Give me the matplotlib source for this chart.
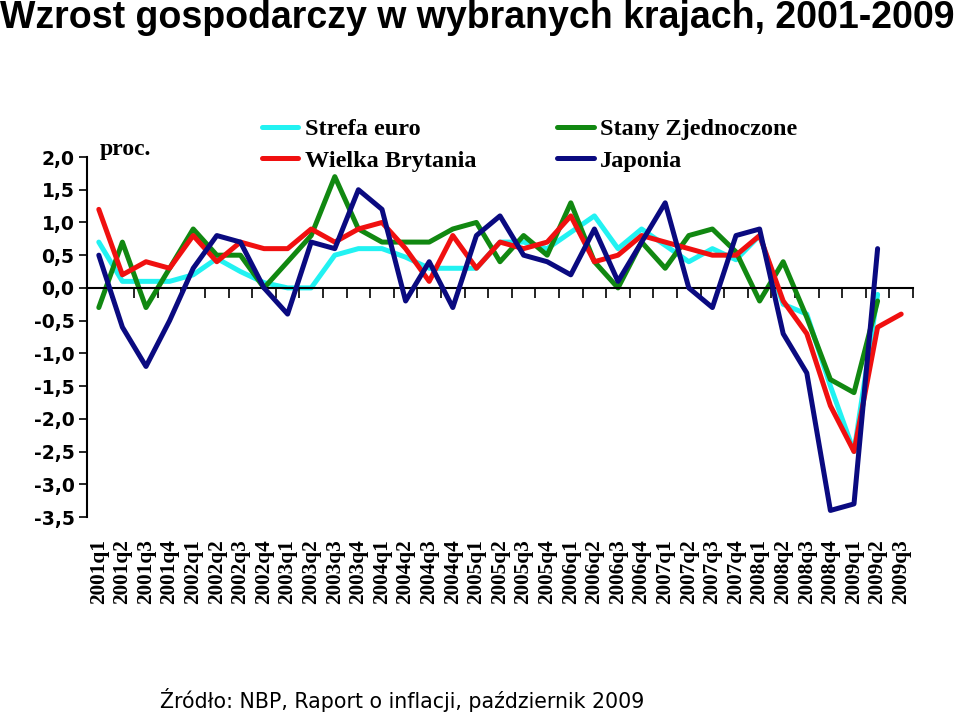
import numpy as np
import matplotlib
matplotlib.use("Agg")
import matplotlib.pyplot as plt

# quarters 2001q1 .. 2009q3
quarters = [f"{y}q{q}" for y in range(2001, 2010) for q in range(1, 5)][:35]

# GDP growth q/q, per cent
euro = [0.7, 0.1, 0.1, 0.1, 0.2, 0.45, 0.25, 0.08, 0.0, 0.0,
        0.5, 0.6, 0.6, 0.47, 0.3, 0.3, 0.3, 0.7, 0.7, 0.6,
        0.85, 1.1, 0.6, 0.9, 0.65, 0.4, 0.6, 0.43, 0.8, -0.25,
        -0.4, -1.5, -2.5, -0.1, np.nan]
uk = [1.2, 0.2, 0.4, 0.3, 0.8, 0.4, 0.7, 0.6, 0.6, 0.9,
      0.7, 0.9, 1.0, 0.6, 0.1, 0.8, 0.3, 0.7, 0.6, 0.7,
      1.1, 0.4, 0.5, 0.8, 0.7, 0.6, 0.5, 0.5, 0.8, -0.2,
      -0.7, -1.8, -2.5, -0.6, -0.4]
usa = [-0.3, 0.7, -0.3, 0.3, 0.9, 0.5, 0.5, 0.0, 0.4, 0.8,
       1.7, 0.9, 0.7, 0.7, 0.7, 0.9, 1.0, 0.4, 0.8, 0.5,
       1.3, 0.4, 0.0, 0.7, 0.3, 0.8, 0.9, 0.55, -0.2, 0.4,
       -0.45, -1.4, -1.6, -0.2, np.nan]
japan = [0.5, -0.6, -1.2, -0.5, 0.3, 0.8, 0.7, 0.0, -0.4, 0.7,
         0.6, 1.5, 1.2, -0.2, 0.4, -0.3, 0.8, 1.1, 0.5, 0.4,
         0.2, 0.9, 0.1, 0.7, 1.3, 0.0, -0.3, 0.8, 0.9, -0.7,
         -1.3, -3.4, -3.3, 0.6, np.nan]

yticks = np.arange(-3.5, 2.01, 0.5)

fig = plt.figure(figsize=(9.6, 7.15), dpi=100)
ax = fig.add_axes([87 / 960, 1 - 517 / 715, 826 / 960, 360 / 715])

x = np.arange(len(quarters))
lw = 3.6
l_euro, = ax.plot(x, euro, color="#22F2F2", lw=lw, zorder=1, solid_capstyle="round")
l_usa, = ax.plot(x, usa, color="#118811", lw=lw, zorder=2, solid_capstyle="round")
l_uk, = ax.plot(x, uk, color="#F01010", lw=lw, zorder=3, solid_capstyle="round")
l_jp, = ax.plot(x, japan, color="#0A0A80", lw=lw, zorder=4, solid_capstyle="round")

ax.set_xlim(-0.5, len(quarters) - 0.5)
ax.set_ylim(-3.5, 2.0)

# y axis
ax.set_yticks(yticks)
ax.set_yticklabels([f"{v:.1f}".replace(".", ",") for v in yticks],
                   fontsize=13.5, fontweight="bold", family="DejaVu Sans")
ax.tick_params(axis="y", direction="out", length=6, width=1.2, pad=3)
ax.spines["left"].set_linewidth(1.5)
ax.spines["right"].set_visible(False)
ax.spines["top"].set_visible(False)

# zero line with category boundary ticks
ax.spines["bottom"].set_position(("data", 0))
ax.spines["bottom"].set_linewidth(1.5)
ax.set_xticks(np.arange(0.5, len(quarters), 1.0))
ax.tick_params(axis="x", direction="out", length=7, width=1.2, labelbottom=False)

# quarter labels at the bottom
sec = ax.secondary_xaxis("bottom")
sec.set_xticks(x)
sec.set_xticklabels(quarters, rotation=90, fontsize=15.3, fontweight="bold",
                    family="Liberation Serif")
sec.tick_params(length=0, pad=16)
sec.spines["bottom"].set_visible(False)

fig.text(100 / 960, 1 - 150 / 715, "proc.", fontsize=17, fontweight="bold",
         family="Liberation Serif", va="center", ha="left")

fig.legend([l_euro, l_uk, l_usa, l_jp],
           ["Strefa euro", "Wielka Brytania", "Stany Zjednoczone", "Japonia"],
           ncol=2, frameon=False, loc="upper left",
           bbox_to_anchor=(262 / 960, 1 - 118 / 715),
           prop={"family": "Liberation Serif", "weight": "bold", "size": 17.5},
           handlelength=1.5, handletextpad=0.25, columnspacing=3.35,
           labelspacing=0.4, borderpad=0, borderaxespad=0)

fig.text(0.0, 1.0, "Wzrost gospodarczy w wybranych krajach, 2001-2009",
         fontsize=27, fontweight="bold", family="Liberation Sans",
         ha="left", va="top")
fig.text(160 / 960, 1 - 700 / 715,
         "Źródło: NBP, Raport o inflacji, październik 2009",
         fontsize=14.8, family="DejaVu Sans", ha="left", va="center")

fig.savefig("out.png", dpi=100)
